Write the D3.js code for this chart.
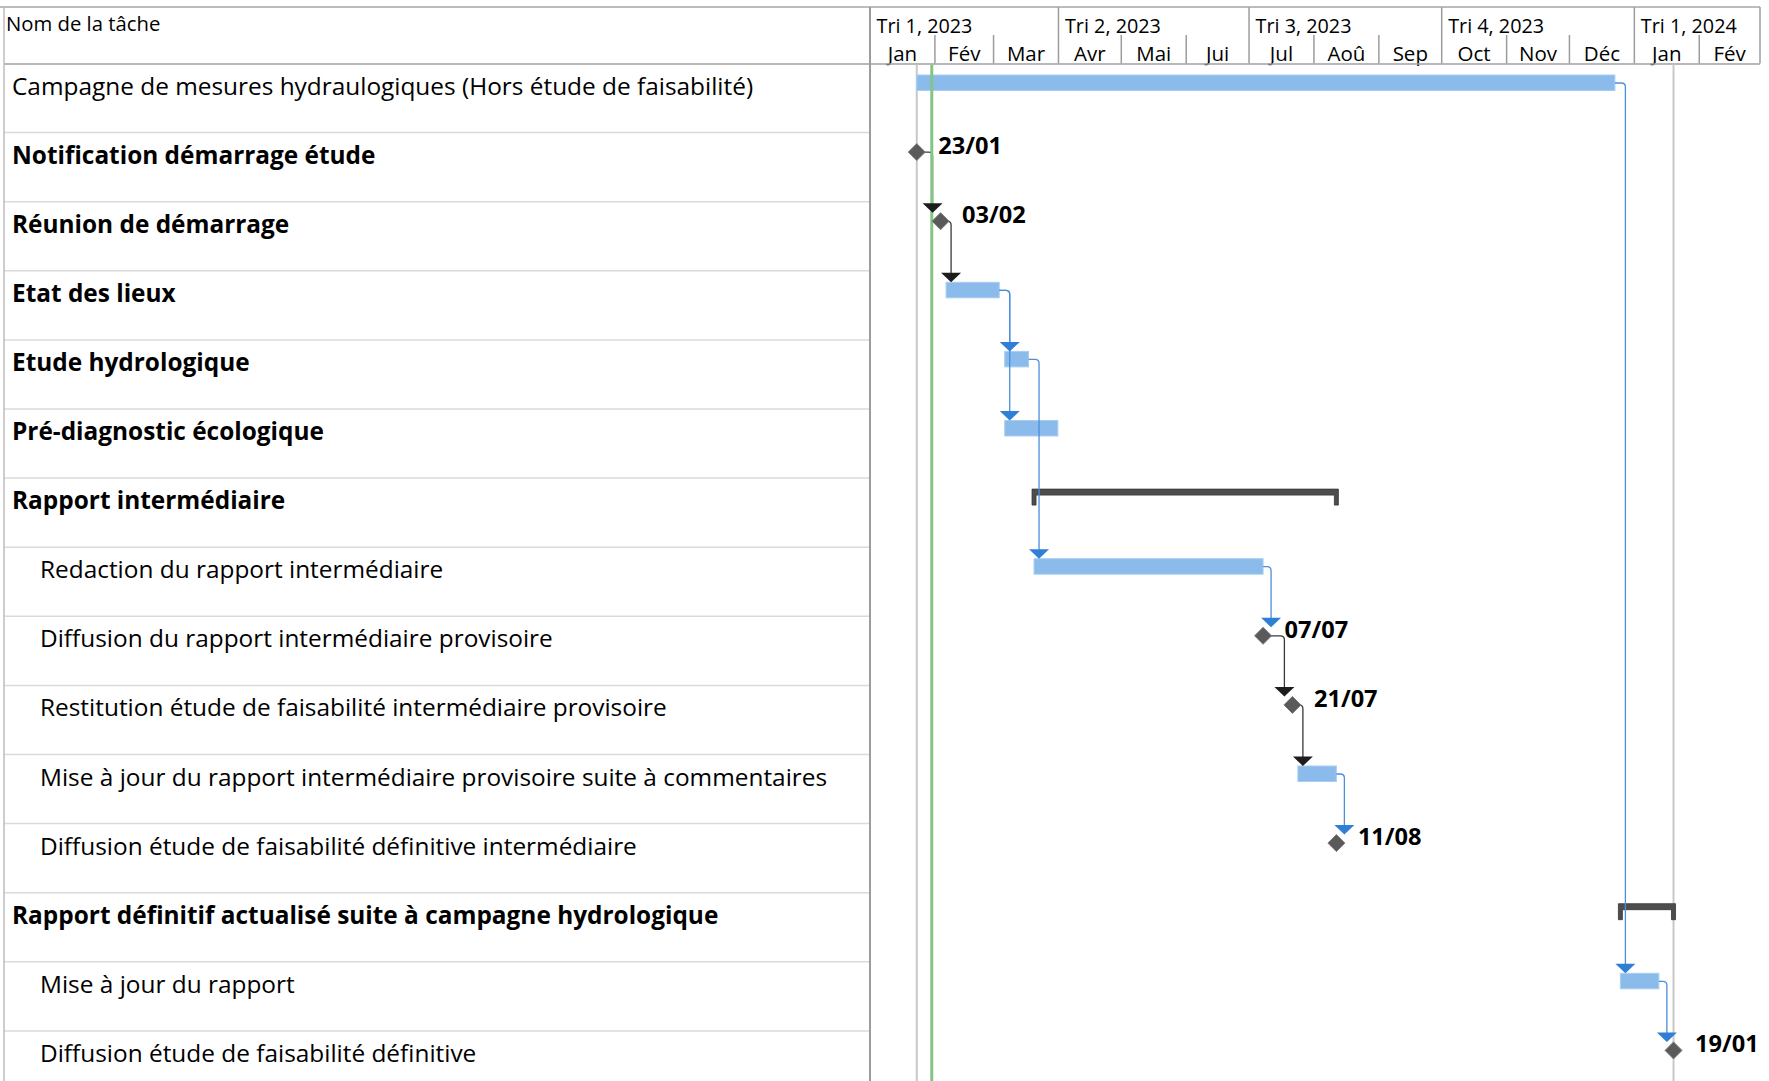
<!DOCTYPE html>
<html lang="fr">
<head>
  <meta charset="UTF-8">
  <title>Gantt</title>
  <style>
    body, html {
      margin: 0;
      padding: 0;
      background: #fff;
    }
    svg text {
      font-family: 'Open Sans', 'Noto Sans', 'DejaVu Sans', sans-serif;
      fill: #000;
    }
  </style>
</head>
<body>
  <svg id="chart" width="1769" height="1081"></svg>

  <script src="https://d3js.org/d3.v7.min.js"></script>
  <script>
    // -------- DATA ------------
    const tasks = [
      "Campagne de mesures hydraulogiques (Hors étude de faisabilité)",
      "Notification démarrage étude",
      "Réunion de démarrage",
      "Etat des lieux",
      "Etude hydrologique",
      "Pré-diagnostic écologique",
      "Rapport intermédiaire",
      "Redaction du rapport intermédiaire",
      "Diffusion du rapport intermédiaire provisoire",
      "Restitution étude de faisabilité intermédiaire provisoire",
      "Mise à jour du rapport intermédiaire provisoire suite à commentaires",
      "Diffusion étude de faisabilité définitive intermédiaire",
      "Rapport définitif actualisé suite à campagne hydrologique",
      "Mise à jour du rapport",
      "Diffusion étude de faisabilité définitive"
    ]
    const kinds = ["task", "milestone", "milestone", "task", "task", "task", "summary",
                   "task", "milestone", "milestone", "task", "milestone", "summary", "task", "milestone"]
    const levels = [0, 0, 0, 0, 0, 0, 0, 1, 1, 1, 1, 1, 0, 1, 1]
    const boldRows = [false, true, true, true, true, true, true, false, false, false, false, false, true, false, false]
    const starts = [
      "2023-01-23 08:00", "2023-01-23 08:00", "2023-02-03 17:00", "2023-02-06 08:00",
      "2023-03-06 08:00", "2023-03-06 08:00", "2023-03-20 08:00", "2023-03-20 08:00",
      "2023-07-07 17:00", "2023-07-21 17:00", "2023-07-24 08:00", "2023-08-11 17:00",
      "2023-12-25 08:00", "2023-12-25 08:00", "2024-01-19 17:00"
    ]
    const finishes = [
      "2023-12-22 17:00", "2023-01-23 08:00", "2023-02-03 17:00", "2023-03-03 17:00",
      "2023-03-17 17:00", "2023-03-31 17:00", "2023-08-11 17:00", "2023-07-07 17:00",
      "2023-07-07 17:00", "2023-07-21 17:00", "2023-08-11 17:00", "2023-08-11 17:00",
      "2024-01-19 17:00", "2024-01-12 17:00", "2024-01-19 17:00"
    ]
    // predecessor -> successor (finish to start)
    const links = [[1, 2], [2, 3], [3, 4], [3, 5], [4, 7], [7, 8], [8, 9], [9, 10], [10, 11], [0, 13], [13, 14]]

    const monthNames = ["Jan", "Fév", "Mar", "Avr", "Mai", "Jui", "Jul", "Aoû", "Sep", "Oct", "Nov", "Déc"]
    const quarterPrefix = "Tri"
    const timescaleStart = "2023-01-01 00:00"
    const timescaleEnd = "2024-03-01 00:00"
    const projectStart = "2023-01-23 08:00"
    const projectFinish = "2024-01-19 17:00"
    const statusDate = "2023-01-30 12:00"
    const columnTitle = "Nom de la tâche"

    // -------- HELPERS ------------
    const parse = d3.timeParse("%Y-%m-%d %H:%M")
    const fmtMilestone = d3.timeFormat("%d/%m")

    const rows = tasks.map((name, i) => ({
      i, name,
      kind: kinds[i],
      level: levels[i],
      bold: boldRows[i],
      start: parse(starts[i]),
      finish: parse(finishes[i])
    }))

    // -------- LAYOUT ------------
    const tableLeft = 4
    const tableRight = 870
    const chartRight = 1760
    const headerTop = 7
    const headerBottom = 63.5
    const rowH = 69.1
    const height = 1081

    const svg = d3.select("#chart")

    const x = d3.scaleTime()
      .domain([parse(timescaleStart), parse(timescaleEnd)])
      .range([tableRight, chartRight])

    const y = d3.scaleBand()
      .domain(rows.map(d => d.i))
      .range([headerBottom, headerBottom + rowH * rows.length])

    const barTop = 11.5, barH = 15.5
    const markMid = 19.5
    const dia = 8.5

    const blue = "#2f7fd6"
    const dark = "#1d1d1d"

    // -------- TABLE ------------
    const table = svg.append("g")

    table.selectAll("line.sep")
      .data(rows.slice(1))
      .enter().append("line")
      .attr("x1", tableLeft).attr("x2", tableRight)
      .attr("y1", d => y(d.i)).attr("y2", d => y(d.i))
      .attr("stroke", "#dadada").attr("stroke-width", 1.5)

    table.selectAll("text.task")
      .data(rows)
      .enter().append("text")
      .attr("x", d => d.level === 0 ? 12 : 40)
      .attr("y", d => y(d.i) + 31)
      .style("font-size", "24.4px")
      .style("font-weight", d => d.bold ? 700 : 400)
      .text(d => d.name)

    // -------- HEADER ------------
    const header = svg.append("g")

    header.append("text")
      .attr("x", 6).attr("y", 31)
      .style("font-size", "20.3px")
      .text(columnTitle)

    const months = d3.timeMonth.range(x.domain()[0], x.domain()[1])
    const quarters = d3.timeMonth.every(3).range(x.domain()[0], x.domain()[1])

    header.selectAll("line.month")
      .data(months.filter(m => m.getMonth() % 3 !== 0))
      .enter().append("line")
      .attr("x1", d => x(d)).attr("x2", d => x(d))
      .attr("y1", 35).attr("y2", headerBottom)
      .attr("stroke", "#9c9c9c").attr("stroke-width", 1.5)

    header.selectAll("line.quarter")
      .data(quarters)
      .enter().append("line")
      .attr("x1", d => x(d)).attr("x2", d => x(d))
      .attr("y1", headerTop).attr("y2", headerBottom)
      .attr("stroke", "#9c9c9c").attr("stroke-width", 1.5)

    header.selectAll("text.month")
      .data(months)
      .enter().append("text")
      .attr("x", d => (x(d) + x(d3.timeMonth.offset(d, 1))) / 2)
      .attr("y", 61)
      .attr("text-anchor", "middle")
      .style("font-size", "20.5px")
      .text(d => monthNames[d.getMonth()])

    header.selectAll("text.quarter")
      .data(quarters)
      .enter().append("text")
      .attr("x", d => x(d) + 6.5)
      .attr("y", 33)
      .style("font-size", "19.8px")
      .text(d => `${quarterPrefix} ${Math.floor(d.getMonth() / 3) + 1}, ${d.getFullYear()}`)

    // borders
    svg.append("line")
      .attr("x1", 0).attr("x2", chartRight)
      .attr("y1", headerTop).attr("y2", headerTop)
      .attr("stroke", "#a6a6a6").attr("stroke-width", 1.5)
    svg.append("line")
      .attr("x1", tableLeft).attr("x2", chartRight)
      .attr("y1", headerBottom + 0.5).attr("y2", headerBottom + 0.5)
      .attr("stroke", "#a0a0a0").attr("stroke-width", 1.5)
    svg.append("line")
      .attr("x1", tableLeft).attr("x2", tableLeft)
      .attr("y1", headerTop).attr("y2", height)
      .attr("stroke", "#bcbcbc").attr("stroke-width", 1.5)
    svg.append("line")
      .attr("x1", tableRight).attr("x2", tableRight)
      .attr("y1", headerTop).attr("y2", height)
      .attr("stroke", "#9c9c9c").attr("stroke-width", 2)
    svg.append("line")
      .attr("x1", chartRight).attr("x2", chartRight)
      .attr("y1", headerTop).attr("y2", headerBottom)
      .attr("stroke", "#9c9c9c").attr("stroke-width", 1.5)

    // -------- GANTT ------------
    const gantt = svg.append("g")

    // project start / finish lines
    gantt.selectAll("line.proj")
      .data([parse(projectStart), parse(projectFinish)])
      .enter().append("line")
      .attr("x1", d => x(d)).attr("x2", d => x(d))
      .attr("y1", headerBottom + 1).attr("y2", height)
      .attr("stroke", "#c8c8c8").attr("stroke-width", 2)

    // task bars
    gantt.selectAll("rect.bar")
      .data(rows.filter(d => d.kind === "task"))
      .enter().append("rect")
      .attr("x", d => x(d.start))
      .attr("y", d => y(d.i) + barTop)
      .attr("width", d => x(d.finish) - x(d.start))
      .attr("height", barH)
      .attr("fill", "#8bbbeb")
      .attr("stroke", "#a9cdf1")
      .attr("stroke-width", 1)

    // summary bars
    gantt.selectAll("path.summary")
      .data(rows.filter(d => d.kind === "summary"))
      .enter().append("path")
      .attr("d", d => {
        const x0 = x(d.start) - 2, x1 = x(d.finish) + 2, t = y(d.i) + 11
        return `M${x0},${t} H${x1} V${t + 16} H${x1 - 4} V${t + 6} H${x0 + 4} V${t + 16} H${x0} Z`
      })
      .attr("fill", "#4d4d4d")
      .attr("stroke", "#353535")
      .attr("stroke-width", 0.8)

    // links
    const exitX = d => x(d.finish) + 8
    const entryX = d => d.kind === "milestone" ? x(d.start) - 8 : x(d.start) + 5
    const entryTop = d => d.kind === "milestone" ? y(d.i) + markMid - dia : y(d.i) + barTop
    const linkLines = gantt.append("g")
    const statusG = gantt.append("g")
    const linkArrows = gantt.append("g")

    links.forEach(([a, b]) => {
      const p = rows[a], s = rows[b]
      const color = p.kind === "milestone" ? dark : blue
      const lineColor = p.kind === "milestone" ? "#3a3a3a" : "#4a8fdc"
      const x0 = x(p.finish)
      const y0 = y(p.i) + markMid
      const vx = Math.max(exitX(p), entryX(s))
      const tip = entryTop(s)
      const r = 4
      linkLines.append("path")
        .attr("d", `M${x0},${y0} H${vx - r} Q${vx},${y0} ${vx},${y0 + r} V${tip - 8}`)
        .attr("fill", "none")
        .attr("stroke", lineColor)
        .attr("stroke-width", 1.3)
      linkArrows.append("path")
        .attr("d", `M${vx - 10},${tip - 9.5} L${vx + 10},${tip - 9.5} L${vx},${tip} Z`)
        .attr("fill", color)
    })

    // status date line (over the link lines, under arrows and milestones)
    statusG.append("line")
      .attr("x1", x(parse(statusDate))).attr("x2", x(parse(statusDate)))
      .attr("y1", headerBottom + 1).attr("y2", height)
      .attr("stroke", "#84c484").attr("stroke-width", 3)

    // milestones
    const ms = gantt.selectAll("g.ms")
      .data(rows.filter(d => d.kind === "milestone"))
      .enter().append("g")
      .attr("transform", d => `translate(${x(d.finish)},${y(d.i) + markMid})`)

    ms.append("path")
      .attr("d", `M0,${-dia} L${dia},0 L0,${dia} L${-dia},0 Z`)
      .attr("fill", "#5a5a5a")
      .attr("stroke", "#7c7c7c")
      .attr("stroke-width", 1)

    ms.append("text")
      .attr("x", 21.5)
      .attr("y", 2)
      .style("font-size", "23.6px")
      .style("font-weight", 700)
      .text(d => fmtMilestone(d.finish))
  </script>
</body>
</html>
